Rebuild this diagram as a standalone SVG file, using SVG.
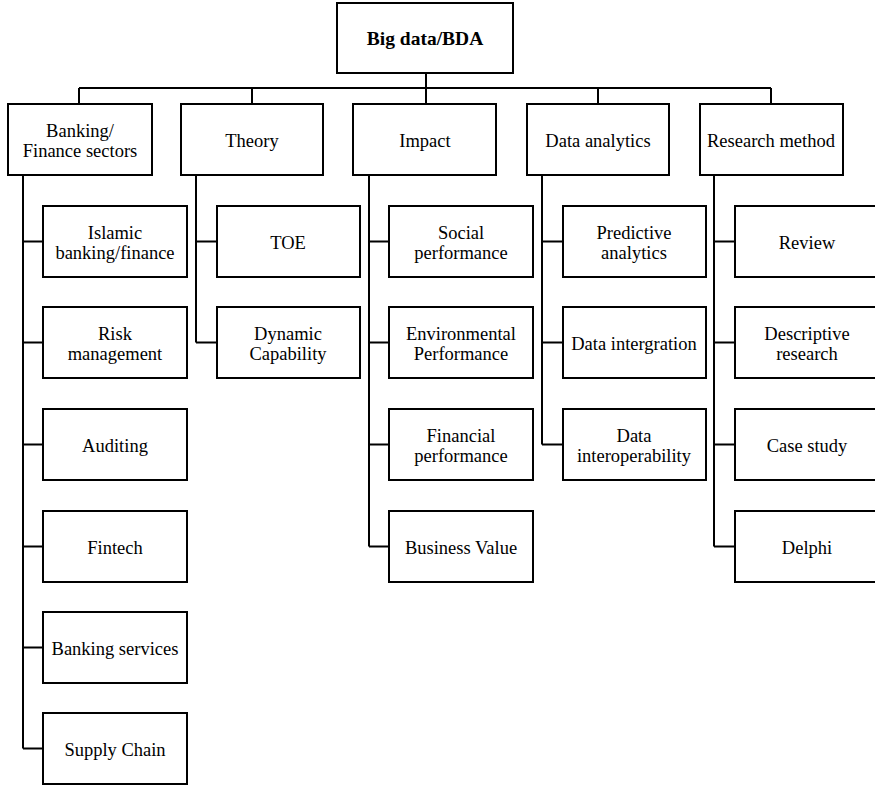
<svg xmlns="http://www.w3.org/2000/svg" width="875" height="785" viewBox="0 0 875 785">
<style>
rect{fill:#fff;stroke:#000;stroke-width:2}
text{font-size:18.5px;fill:#000;text-anchor:middle}
.b{font-weight:bold;font-size:19.5px}
#conn path{fill:none;stroke:#000;stroke-width:2}
</style>
<rect x="0" y="0" width="875" height="785" style="stroke:none"/>
<g id="conn">
<path d="M426 73V88M79 88H771M79 88V104M252 88V104M426 88V104M598 88V104M771 88V104"/>
<path d="M23 175V748.5M23 241.5H43M23 342.5H43M23 444.5H43M23 546.5H43M23 647.5H43M23 748.5H43"/>
<path d="M196 175V342.5M196 241.5H217M196 342.5H217"/>
<path d="M369 175V546.5M369 241.5H389M369 342.5H389M369 444.5H389M369 546.5H389"/>
<path d="M542 175V444.5M542 241.5H563M542 342.5H563M542 444.5H563"/>
<path d="M714 175V546.5M714 241.5H735M714 342.5H735M714 444.5H735M714 546.5H735"/>
</g>
<g font-family="Liberation Serif, DejaVu Serif, serif">
<g id="root"><rect x="337" y="3" width="176" height="70"/><text class="b" x="425" y="45">Big data/BDA</text></g>
<g id="banking"><rect x="8" y="104" width="144" height="71"/><text x="80" y="136.5">Banking/</text><text x="80" y="156.5">Finance sectors</text></g>
<g id="theory"><rect x="181" y="104" width="142" height="71"/><text x="252" y="146.5">Theory</text></g>
<g id="impact"><rect x="353" y="104" width="143" height="71"/><text x="425" y="146.5">Impact</text></g>
<g id="analytics"><rect x="527" y="104" width="142" height="71"/><text x="598" y="146.5">Data analytics</text></g>
<g id="method"><rect x="700" y="104" width="143" height="71"/><text x="771" y="146.5">Research method</text></g>

<g id="islamic"><rect x="43" y="206" width="144" height="71"/><text x="115" y="238.5">Islamic</text><text x="115" y="258.5">banking/finance</text></g>
<g id="risk"><rect x="43" y="307" width="144" height="71"/><text x="115" y="339.5">Risk</text><text x="115" y="359.5">management</text></g>
<g id="auditing"><rect x="43" y="409" width="144" height="71"/><text x="115" y="451.5">Auditing</text></g>
<g id="fintech"><rect x="43" y="511" width="144" height="71"/><text x="115" y="553.5">Fintech</text></g>
<g id="bankserv"><rect x="43" y="612" width="144" height="71"/><text x="115" y="654.5">Banking services</text></g>
<g id="supply"><rect x="43" y="713" width="144" height="71"/><text x="115" y="755.5">Supply Chain</text></g>

<g id="toe"><rect x="217" y="206" width="143" height="71"/><text x="288" y="248.5">TOE</text></g>
<g id="dynamic"><rect x="217" y="307" width="143" height="71"/><text x="288" y="339.5">Dynamic</text><text x="288" y="359.5">Capability</text></g>

<g id="social"><rect x="389" y="206" width="144" height="71"/><text x="461" y="238.5">Social</text><text x="461" y="258.5">performance</text></g>
<g id="env"><rect x="389" y="307" width="144" height="71"/><text x="461" y="339.5">Environmental</text><text x="461" y="359.5">Performance</text></g>
<g id="fin"><rect x="389" y="409" width="144" height="71"/><text x="461" y="441.5">Financial</text><text x="461" y="461.5">performance</text></g>
<g id="bizval"><rect x="389" y="511" width="144" height="71"/><text x="461" y="553.5">Business Value</text></g>

<g id="predictive"><rect x="563" y="206" width="143" height="71"/><text x="634" y="238.5">Predictive</text><text x="634" y="258.5">analytics</text></g>
<g id="integration"><rect x="563" y="307" width="143" height="71"/><text x="634" y="349.5">Data intergration</text></g>
<g id="interop"><rect x="563" y="409" width="143" height="71"/><text x="634" y="441.5">Data</text><text x="634" y="461.5">interoperability</text></g>

<g id="review"><rect x="735" y="206" width="143" height="71"/><text x="807" y="248.5">Review</text></g>
<g id="descriptive"><rect x="735" y="307" width="143" height="71"/><text x="807" y="339.5">Descriptive</text><text x="807" y="359.5">research</text></g>
<g id="case"><rect x="735" y="409" width="143" height="71"/><text x="807" y="451.5">Case study</text></g>
<g id="delphi"><rect x="735" y="511" width="143" height="71"/><text x="807" y="553.5">Delphi</text></g>
</g>
</svg>
